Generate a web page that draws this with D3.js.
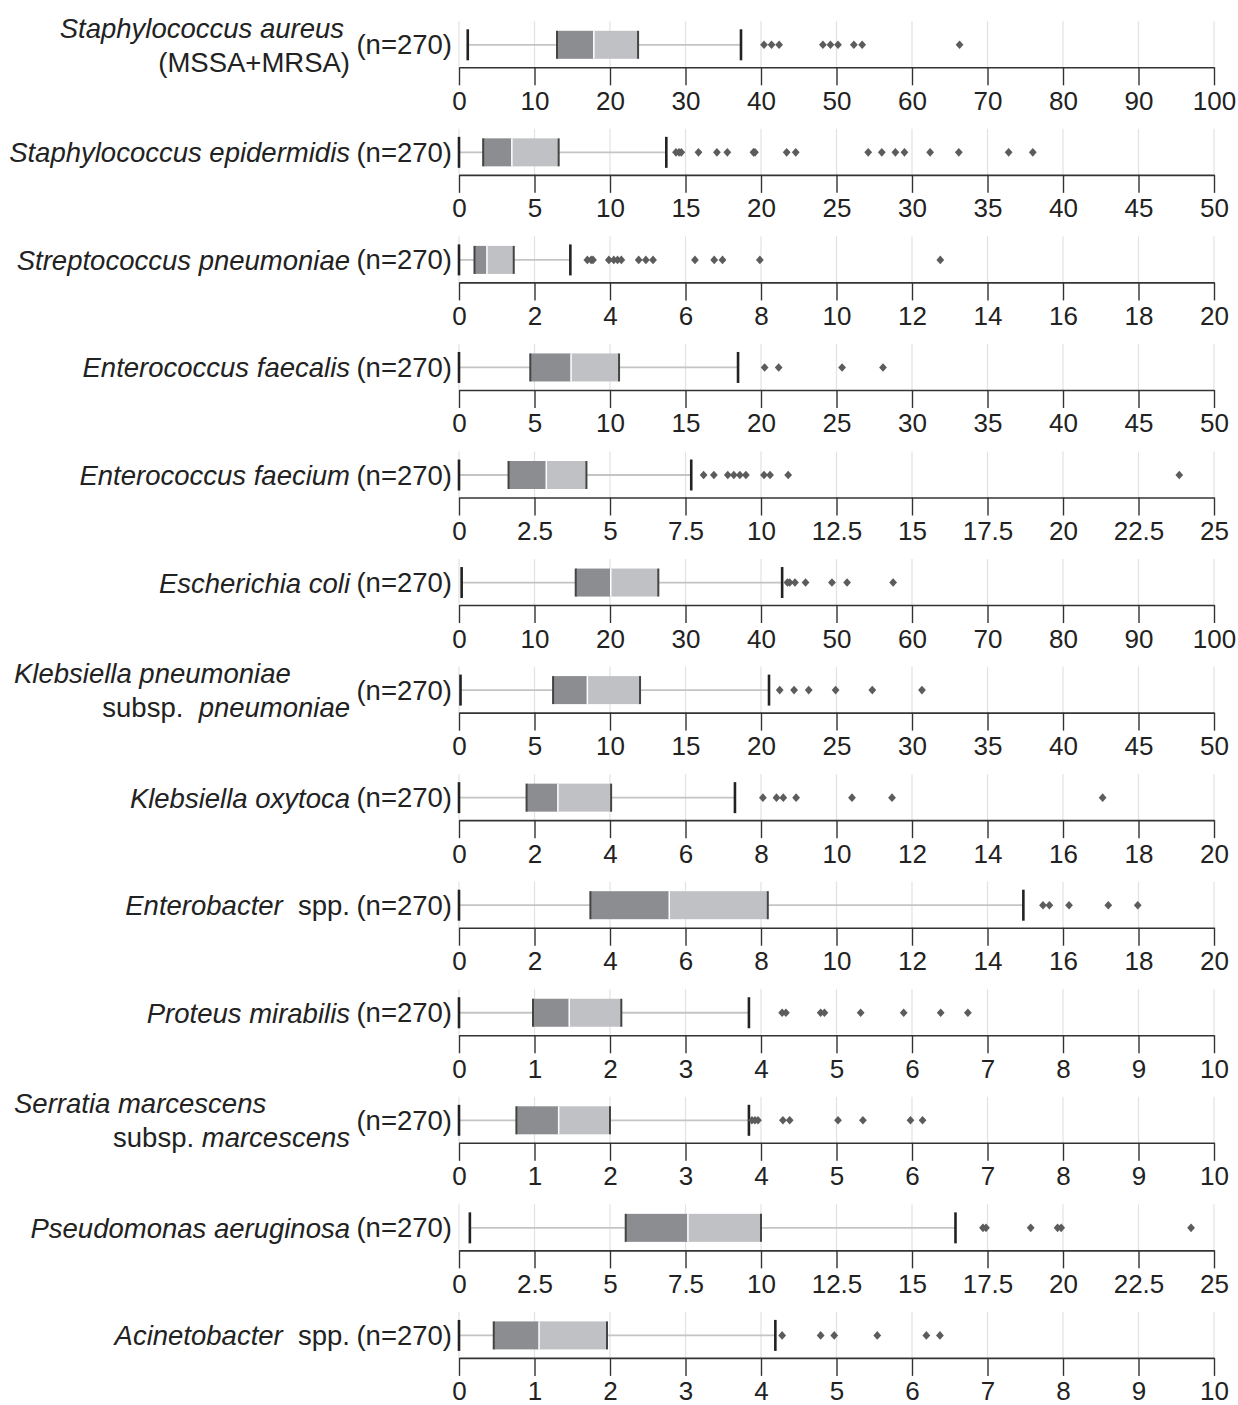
<!DOCTYPE html>
<html><head><meta charset="utf-8">
<script src="https://cdn.jsdelivr.net/npm/d3@7"></script>
<style>body{margin:0;background:#fff}svg{display:block}</style>
</head><body><svg id="c" width="1238" height="1405"></svg>
<script>
// ---- data ----
const speciesLabels = [
  [[["Staphylococcus aureus","i"]],[["(MSSA+MRSA)","n"]]],
  [[["Staphylococcus epidermidis","i"]]],
  [[["Streptococcus pneumoniae","i"]]],
  [[["Enterococcus faecalis","i"]]],
  [[["Enterococcus faecium","i"]]],
  [[["Escherichia coli","i"]]],
  [[["Klebsiella pneumoniae","i"]],[["subsp.  ","n"],["pneumoniae","i"]]],
  [[["Klebsiella oxytoca","i"]]],
  [[["Enterobacter","i"],["  spp.","n"]]],
  [[["Proteus mirabilis","i"]]],
  [[["Serratia marcescens","i"]],[["subsp. ","n"],["marcescens","i"]]],
  [[["Pseudomonas aeruginosa","i"]]],
  [[["Acinetobacter","i"],["  spp.","n"]]]
];
const sampleLabels = ["(n=270)","(n=270)","(n=270)","(n=270)","(n=270)","(n=270)","(n=270)","(n=270)","(n=270)","(n=270)","(n=270)","(n=270)","(n=270)"];
const ticks100 = [0,10,20,30,40,50,60,70,80,90,100];
const ticks50  = [0,5,10,15,20,25,30,35,40,45,50];
const ticks25  = [0,2.5,5,7.5,10,12.5,15,17.5,20,22.5,25];
const ticks20  = [0,2,4,6,8,10,12,14,16,18,20];
const ticks10  = [0,1,2,3,4,5,6,7,8,9,10];
const panelTicks = [ticks100,ticks50,ticks20,ticks50,ticks25,ticks100,ticks50,ticks20,ticks20,ticks10,ticks10,ticks25,ticks10];
const whiskerLow  = [1.16, 0,    0,    0,     0,    0.35, 0.1,  0,    0,    0,    0,    0.36, 0];
const q1          = [12.98,1.6,  0.41, 4.72,  1.64, 15.46,6.23, 1.79, 3.48, 0.98, 0.76, 5.52, 0.46];
const median      = [17.86,3.5,  0.74, 7.42,  2.89, 20.1, 8.5,  2.62, 5.57, 1.46, 1.32, 7.58, 1.06];
const q3          = [23.72,6.6,  1.45, 10.6,  4.22, 26.4, 11.99,4.03, 8.18, 2.15, 2.0,  10.0, 1.96];
const whiskerHigh = [37.35,13.73,2.95, 18.48, 7.69, 42.8, 20.53,7.31, 14.95,3.84, 3.84, 16.44,4.19];
const outliers = [
  [40.4,41.4,42.4,48.2,49.2,50.2,52.3,53.4,66.3],
  [14.37,14.57,14.72,15.86,17.08,17.77,19.5,19.6,21.7,22.3,27.1,28.0,28.9,29.5,31.2,33.1,36.4,38.0],
  [3.4,3.5,3.55,3.97,4.1,4.2,4.3,4.76,4.95,5.14,6.25,6.76,6.98,7.97,12.75],
  [20.24,21.17,25.37,28.08],
  [8.1,8.44,8.9,9.1,9.3,9.5,10.1,10.3,10.9,23.85],
  [43.5,43.8,44.5,45.9,49.4,51.4,57.5],
  [21.24,22.19,23.16,24.94,27.37,30.66],
  [8.05,8.41,8.59,8.93,10.41,11.47,17.05],
  [15.47,15.64,16.16,17.2,17.98],
  [4.28,4.33,4.79,4.84,5.32,5.89,6.38,6.74],
  [3.88,3.92,3.96,4.29,4.38,5.02,5.35,5.98,6.14],
  [17.35,17.45,18.93,19.82,19.94,24.24],
  [4.28,4.79,4.97,5.54,6.19,6.37]
];

// ---- layout ----
const svg = d3.select("#c");
const X0 = 459, X1 = 1214;
const axis0 = 67.3, step = 107.55;
const FONT = "'Liberation Sans', Arial, Helvetica, sans-serif";
const textColor = "#222";
const labelSize = "27.5px";

speciesLabels.forEach((lab, i) => {
  const ay = axis0 + i*step;
  const cy = ay - 22.5;
  const ticks = panelTicks[i];
  const x = d3.scaleLinear().domain([0, d3.max(ticks)]).range([X0, X1]);
  const g = svg.append("g");

  // grid
  g.selectAll("line.grid").data(ticks).join("line")
    .attr("x1", d => x(d)).attr("x2", d => x(d))
    .attr("y1", ay - 46).attr("y2", ay)
    .attr("stroke", "#e2e2e2").attr("stroke-width", 1.2);

  // axis
  const ax = g.append("g").attr("transform", `translate(0,${ay})`)
    .call(d3.axisBottom(x).tickValues(ticks).tickSize(18).tickSizeOuter(0).tickPadding(6).tickFormat(d => String(d)));
  ax.select(".domain").attr("stroke", "#333").attr("stroke-width", 1.6);
  ax.selectAll(".tick line").attr("stroke", "#333").attr("stroke-width", 1.4);
  ax.selectAll(".tick text").attr("fill", textColor).style("font-family", FONT).style("font-size", "26px");

  // whiskers
  g.append("line").attr("x1", x(whiskerLow[i])).attr("x2", x(q1[i])).attr("y1", cy).attr("y2", cy)
    .attr("stroke", "#c4c4c4").attr("stroke-width", 1.8);
  g.append("line").attr("x1", x(q3[i])).attr("x2", x(whiskerHigh[i])).attr("y1", cy).attr("y2", cy)
    .attr("stroke", "#c4c4c4").attr("stroke-width", 1.8);
  [whiskerLow[i], whiskerHigh[i]].forEach(v => {
    g.append("line").attr("x1", x(v)).attr("x2", x(v)).attr("y1", cy - 15.5).attr("y2", cy + 15.5)
      .attr("stroke", "#222").attr("stroke-width", 2.6);
  });

  // box
  const bh = 28;
  g.append("rect").attr("x", x(q1[i])).attr("y", cy - bh/2).attr("width", x(median[i]) - x(q1[i])).attr("height", bh)
    .attr("fill", "#8c8d90");
  g.append("rect").attr("x", x(median[i])).attr("y", cy - bh/2).attr("width", x(q3[i]) - x(median[i])).attr("height", bh)
    .attr("fill", "#c0c1c4");
  g.append("line").attr("x1", x(median[i])).attr("x2", x(median[i])).attr("y1", cy - bh/2).attr("y2", cy + bh/2)
    .attr("stroke", "#fff").attr("stroke-width", 1.5);
  [q1[i], q3[i]].forEach(v => {
    g.append("line").attr("x1", x(v)).attr("x2", x(v)).attr("y1", cy - bh/2).attr("y2", cy + bh/2)
      .attr("stroke", "#444").attr("stroke-width", 2);
  });

  // outliers
  g.selectAll("path.out").data(outliers[i]).join("path")
    .attr("d", d => `M${x(d)},${cy-4.3}L${x(d)+3.9},${cy}L${x(d)},${cy+4.3}L${x(d)-3.9},${cy}Z`)
    .attr("fill", "#5c5c5c");

  // n label
  g.append("text").attr("x", 452).attr("y", cy).attr("text-anchor", "end").attr("dominant-baseline", "central")
    .attr("fill", textColor).style("font-family", FONT).style("font-size", labelSize).text(sampleLabels[i]);

  // species label
  const lines = lab;
  lines.forEach((segs, li) => {
    let ly = cy, anchor = "end", lx = 350;
    if (lines.length === 2) {
      ly = cy + (li === 0 ? -17 : 17);
      if (li === 0) {
        if (i === 0) { lx = 344; anchor = "end"; }
        else { lx = 14; anchor = "start"; }
      }
    }
    const t = g.append("text").attr("x", lx).attr("y", ly).attr("text-anchor", anchor)
      .attr("dominant-baseline", "central").attr("fill", textColor)
      .style("font-family", FONT).style("font-size", labelSize).style("white-space", "pre").attr("xml:space", "preserve");
    segs.forEach(s => {
      t.append("tspan").style("font-style", s[1] === "i" ? "italic" : "normal").text(s[0]);
    });
  });
});
</script>
</body></html>
